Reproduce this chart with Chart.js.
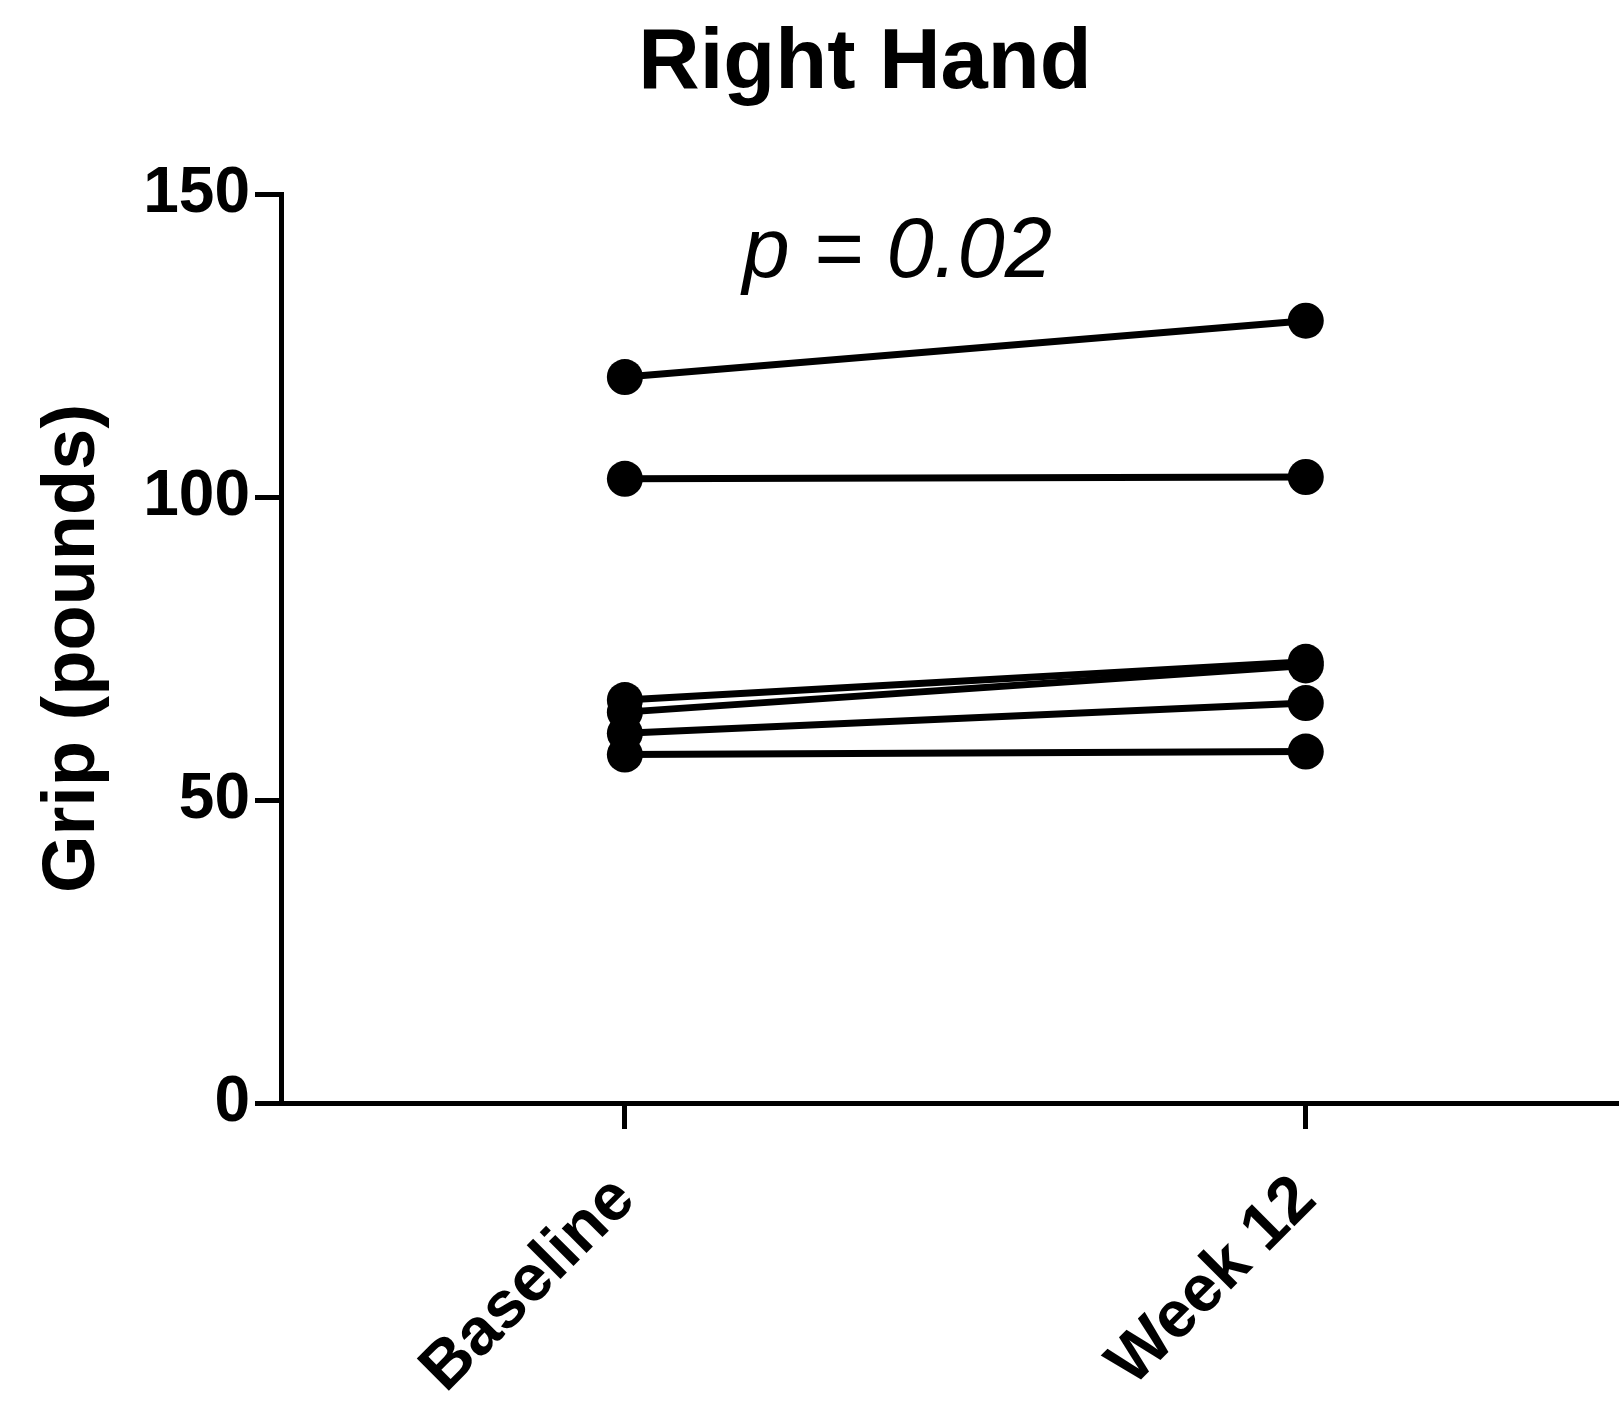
<!DOCTYPE html>
<html>
<head>
<meta charset="utf-8">
<script src="https://cdn.jsdelivr.net/npm/chart.js@4.4.1/dist/chart.umd.min.js"></script>
<style>
  html, body { margin: 0; padding: 0; background: #fff; overflow: hidden; }
  #wrap { width: 1619px; height: 1403px; }
</style>
</head>
<body>
<div id="wrap"><canvas id="gripChart" width="1619" height="1403"></canvas></div>
<script>
// Right hand grip, baseline vs week 12 (one line per subject)
const categories = ["Baseline", "Week 12"];
const baseline = [119.8, 103.0, 66.5, 64.5, 61.0, 57.5];
const week12   = [129.1, 103.3, 72.8, 72.2, 66.0, 58.0];
const yTicks = [0, 50, 100, 150];
const chartTitle = "Right Hand";
const pLabel = "p = 0.02";
const pLabelPos = { x: 1.40, y: 136.3 };

const FONT = "'Liberation Sans', Arial, Helvetica, sans-serif";

const datasets = baseline.map((b, i) => ({
    label: "Subject " + (i + 1),
    data: [{ x: 1, y: b }, { x: 2, y: week12[i] }],
    borderColor: "#000",
    backgroundColor: "#000",
    borderWidth: 7,
    pointRadius: 18,
    pointBorderWidth: 0,
    pointBackgroundColor: "#000",
    clip: false
}));

// title (not centred on canvas in the original) and p value text
const textPlugin = {
    id: "texts",
    afterDatasetsDraw(chart) {
        const { ctx, scales } = chart;
        ctx.save();
        ctx.fillStyle = "#000";
        ctx.textAlign = "center";
        ctx.textBaseline = "alphabetic";
        ctx.font = "bold 85px " + FONT;
        ctx.fillText(chartTitle, 865, 88);
        ctx.font = "italic 85px " + FONT;
        ctx.fillText(pLabel, scales.x.getPixelForValue(pLabelPos.x), scales.y.getPixelForValue(pLabelPos.y));
        ctx.restore();
    }
};

new Chart(document.getElementById("gripChart"), {
    type: "line",
    data: { datasets: datasets },
    plugins: [textPlugin],
    options: {
        responsive: false,
        animation: false,
        layout: { autoPadding: false, padding: { top: 194, right: 0, bottom: 0, left: 0 } },
        plugins: {
            legend: { display: false },
            tooltip: { enabled: false },
            title: { display: false }
        },
        scales: {
            x: {
                type: "linear",
                min: 0.495,
                max: 2.46,
                afterFit(scale) {
                    scale.height = 300;
                    scale.paddingLeft = 0;
                    scale.paddingRight = 0;
                },
                afterBuildTicks(scale) {
                    scale.ticks = categories.map((c, i) => ({ value: i + 1 }));
                },
                grid: {
                    drawOnChartArea: false,
                    drawTicks: true,
                    tickLength: 26,
                    tickWidth: 5,
                    tickColor: "#000"
                },
                border: { display: true, color: "#000", width: 5 },
                ticks: {
                    autoSkip: false,
                    maxRotation: 45,
                    minRotation: 45,
                    padding: 32,
                    labelOffset: 0,
                    color: "#000",
                    font: { family: FONT, size: 66, weight: "bold" },
                    callback: (v) => categories[v - 1]
                }
            },
            y: {
                min: 0,
                max: 150,
                afterFit(scale) {
                    scale.width = 281;
                    scale.paddingTop = 0;
                    scale.paddingBottom = 0;
                },
                afterBuildTicks(scale) {
                    scale.ticks = yTicks.map(v => ({ value: v }));
                },
                grid: {
                    drawOnChartArea: false,
                    drawTicks: true,
                    tickLength: 26,
                    tickWidth: 5,
                    tickColor: "#000"
                },
                border: { display: true, color: "#000", width: 5 },
                ticks: {
                    padding: 5,
                    color: "#000",
                    font: { family: FONT, size: 64, weight: "bold" }
                },
                title: {
                    display: true,
                    text: "Grip (pounds)",
                    color: "#000",
                    font: { family: FONT, size: 74, weight: "bold" },
                    padding: { top: 29, bottom: 0 }
                }
            }
        }
    }
});
</script>
</body>
</html>
